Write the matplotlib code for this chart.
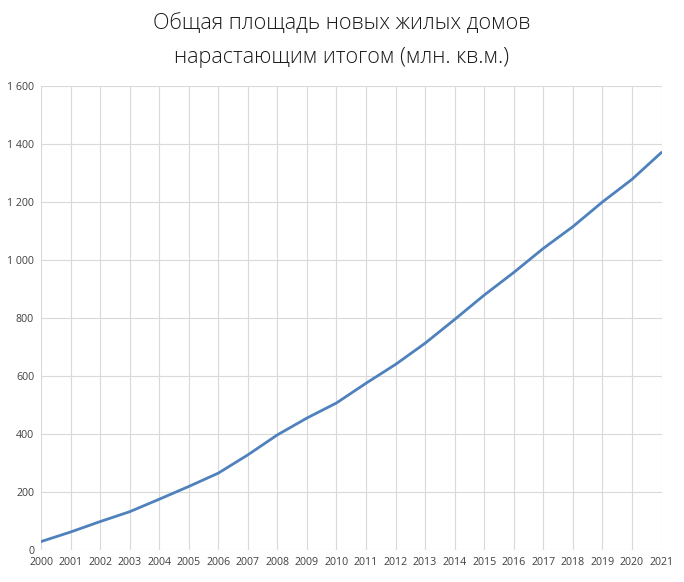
import matplotlib
matplotlib.use("Agg")
import matplotlib.pyplot as plt

years = list(range(2000, 2022))
values = [29, 62, 98, 132, 175, 219, 265, 328, 397, 455, 507, 575, 640, 713, 795, 879, 957, 1040, 1115, 1200, 1278, 1371]
yticks = [0, 200, 400, 600, 800, 1000, 1200, 1400, 1600]
ytick_labels = ["0", "200", "400", "600", "800", "1 000", "1 200", "1 400", "1 600"]
title_lines = ["Общая площадь новых жилых домов", "нарастающим итогом (млн. кв.м.)"]

plt.rcParams['font.family'] = ['Open Sans', 'DejaVu Sans']

fig = plt.figure(figsize=(6.84, 5.82), dpi=100)
ax = fig.add_axes([41/684, 1 - 550/582, (661.5 - 41)/684, (550 - 86)/582])

ax.plot(years, values, color="#4f81bd", linewidth=2.0, solid_capstyle="round", zorder=3)
ax.set_xlim(years[0], years[-1])
ax.set_ylim(0, 1600)
ax.set_xticks(years)
ax.set_xticklabels([str(y) for y in years], fontsize=7.7, color="#404040")
ax.set_yticks(yticks)
ax.set_yticklabels(ytick_labels, fontsize=7.7, color="#404040")
ax.grid(True, color="#d9d9d9", linewidth=0.8)
ax.set_axisbelow(True)
for s in ax.spines.values():
    s.set_visible(False)
ax.tick_params(length=0, pad=5)

for i, line in enumerate(title_lines):
    fig.text(0.5, 1 - (23 + 35 * i)/582, line, ha="center", va="center",
             fontsize=15.6, color="#1a1a1a", fontweight="light")

fig.savefig("out.png", dpi=100)
